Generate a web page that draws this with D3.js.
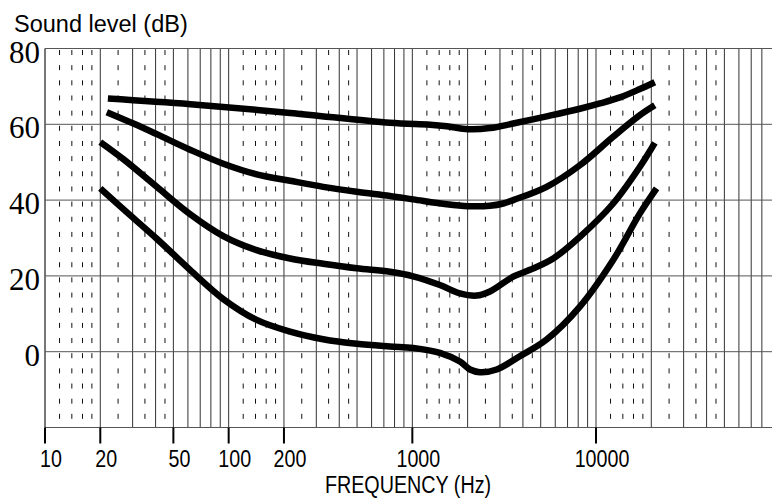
<html>
<head>
<title>Equal loudness curves</title>
<script src="https://cdn.jsdelivr.net/npm/d3@7"></script>
<style>
body { margin: 0; background: #fff; }
</style>
</head>
<body>
<script>

// tick labels
var freqTicks = [10, 20, 50, 100, 200, 1000, 10000];
var levelTicks = [0, 20, 40, 60, 80];

// log grid: solid lines at 1..9 x decade, dashed at the in-between steps
var decades = [10, 100, 1000, 10000];
var solidSteps = [1, 2, 3, 4, 5, 6, 7, 8, 9];
var dashedSteps = [1.2, 1.4, 1.6, 1.8, 2.5, 3.5, 4.5];

// the four contours (Hz, dB)
var freqA  = [22, 62, 216, 755, 1250, 1540, 2015, 2645, 3540, 5385, 8170, 10500, 13500, 17340, 20900];
var levelA = [66.8, 65.3, 63, 60.4, 59.9, 59.5, 58.7, 59, 60.2, 62.1, 64.1, 65.5, 67.1, 69.3, 71.1];

var freqB  = [21.7, 30.3, 40.6, 61.6, 93.5, 142, 216, 327, 498, 755, 1010, 1540, 2015, 2645, 3125, 3540, 5385, 8170, 12400, 17340, 20900];
var levelB = [63.2, 60.2, 57.4, 53.3, 49.6, 46.8, 45.1, 43.5, 42.2, 41.1, 40.2, 38.9, 38.4, 38.5, 39.1, 40, 43.5, 49.2, 56.7, 62.4, 65];

var freqC  = [20, 26.7, 40.6, 61.6, 93.5, 142, 216, 327, 498, 755, 1010, 1413, 1816, 2240, 2645, 3540, 4370, 5850, 8170, 12400, 17340, 20900];
var levelC = [55.3, 50.8, 43.5, 36.3, 30.5, 26.8, 24.6, 23.2, 22, 21.1, 19.9, 17.6, 15.4, 14.8, 15.9, 19.8, 21.6, 24.6, 30.3, 39.1, 48.8, 55.1];

var freqD  = [20, 26.7, 40.6, 61.6, 93.5, 142, 216, 327, 498, 755, 1010, 1413, 1816, 2060, 2330, 2880, 3850, 5385, 8170, 12400, 17340, 21370];
var levelD = [43.1, 37.6, 29.8, 21.6, 13.9, 8.4, 5.3, 3.3, 2.1, 1.4, 1, -0.3, -2.6, -4.7, -5.4, -4.7, -1.2, 3.2, 11.9, 24.2, 36.5, 43.1];

function makeChart() {
    var width = 772;
    var height = 499;
    var plot = {left: 45, right: 772, top: 48.5, bottom: 427.5};

    var svg = d3.select('body')
        .append('svg')
            .attr('width', width)
            .attr('height', height);

    var xScale = d3.scaleLog()
        .domain([10, 10000])
        .range([plot.left, 596]);

    var yScale = d3.scaleLinear()
        .domain([-20, 80])
        .range([plot.bottom, plot.top]);

    var maxFreq = xScale.invert(plot.right - 2);

    var solidFreqs = [];
    var dashedFreqs = [];
    decades.forEach(function (d) {
        solidSteps.forEach(function (k) { if (k * d <= maxFreq) solidFreqs.push(k * d); });
        dashedSteps.forEach(function (k) { if (k * d <= maxFreq) dashedFreqs.push(k * d); });
    });

    var grid = svg.append('g').attr('id', 'grid');

    // dashed verticals, 5 dashes per 20 dB
    var period = (yScale(60) - yScale(80)) / 5;
    grid.selectAll('line.dash')
        .data(dashedFreqs)
        .enter()
        .append('line')
            .attr('class', 'dash')
            .attr('x1', function (d) { return xScale(d); })
            .attr('x2', function (d) { return xScale(d); })
            .attr('y1', plot.top)
            .attr('y2', plot.bottom)
            .attr('stroke', '#111')
            .attr('stroke-width', 1)
            .attr('stroke-dasharray', '5,' + (period - 5))
            .attr('stroke-dashoffset', -1.5);

    grid.selectAll('line.solid')
        .data(solidFreqs)
        .enter()
        .append('line')
            .attr('class', 'solid')
            .attr('x1', function (d) { return xScale(d); })
            .attr('x2', function (d) { return xScale(d); })
            .attr('y1', plot.top)
            .attr('y2', plot.bottom)
            .attr('stroke', '#333')
            .attr('stroke-width', 1);

    grid.selectAll('line.hor')
        .data(levelTicks.concat([-20]))
        .enter()
        .append('line')
            .attr('class', 'hor')
            .attr('x1', plot.left)
            .attr('x2', plot.right)
            .attr('y1', function (d) { return yScale(d); })
            .attr('y2', function (d) { return yScale(d); })
            .attr('stroke', '#555')
            .attr('stroke-width', 1);

    // left axis line
    svg.append('line')
        .attr('x1', plot.left).attr('x2', plot.left)
        .attr('y1', plot.top).attr('y2', plot.bottom)
        .attr('stroke', '#555');

    // contours
    var line = d3.line()
        .x(function (d) { return xScale(d[0]); })
        .y(function (d) { return yScale(d[1]); })
        .curve(d3.curveCatmullRom.alpha(0.5));

    var series = [
        d3.zip(freqA, levelA),
        d3.zip(freqB, levelB),
        d3.zip(freqC, levelC),
        d3.zip(freqD, levelD)
    ];

    svg.append('g').attr('id', 'curves')
        .selectAll('path')
        .data(series)
        .enter()
        .append('path')
            .attr('d', line)
            .attr('fill', 'none')
            .attr('stroke', '#000')
            .attr('stroke-width', 6.5)
            .attr('stroke-linecap', 'butt')
            .attr('stroke-linejoin', 'round');

    // bottom ticks and labels
    var xAxis = svg.append('g').attr('id', 'x-axis');
    xAxis.selectAll('line')
        .data(freqTicks)
        .enter()
        .append('line')
            .attr('x1', function (d) { return xScale(d); })
            .attr('x2', function (d) { return xScale(d); })
            .attr('y1', plot.bottom)
            .attr('y2', plot.bottom + 16)
            .attr('stroke', '#000')
            .attr('stroke-width', 2);

    xAxis.selectAll('text')
        .data(freqTicks)
        .enter()
        .append('text')
            .attr('transform', function (d) { return 'translate(' + (xScale(d) + 6) + ',467) scale(0.82,1)'; })
            .attr('text-anchor', 'middle')
            .style('font-family', '"Liberation Sans", Arial, sans-serif')
            .style('font-size', '24px')
            .text(function (d) { return d; });

    svg.append('text')
        .attr('transform', 'translate(408,492.5) scale(0.84,1)')
        .attr('text-anchor', 'middle')
        .style('font-family', '"Liberation Sans", Arial, sans-serif')
        .style('font-size', '23.5px')
        .text('FREQUENCY (Hz)');

    // left labels
    svg.append('g').attr('id', 'y-axis')
        .selectAll('text')
        .data(levelTicks)
        .enter()
        .append('text')
            .attr('x', 40)
            .attr('y', function (d) { return yScale(d) + 14; })
            .attr('text-anchor', 'end')
            .style('font-family', '"Liberation Serif", "Times New Roman", serif')
            .style('font-size', '31px')
            .text(function (d) { return d; });

    svg.append('text')
        .attr('x', 14)
        .attr('y', 32)
        .style('font-family', '"Liberation Sans", Arial, sans-serif')
        .style('font-size', '23.5px')
        .text('Sound level (dB)');
}

makeChart();

</script>
</body>
</html>
